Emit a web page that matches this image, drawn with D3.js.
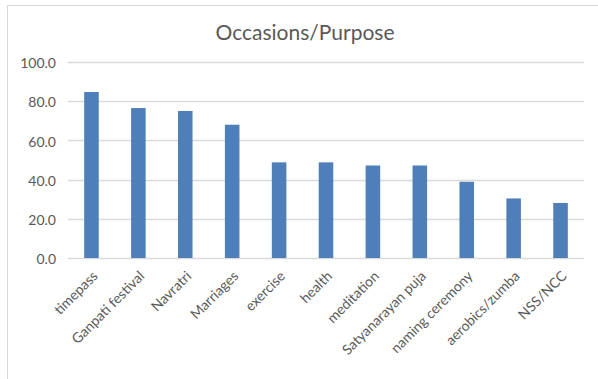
<!DOCTYPE html>
<html>
<head>
<meta charset="utf-8">
<script src="https://cdn.jsdelivr.net/npm/d3@7"></script>
<style>
  html, body { margin: 0; padding: 0; background: #fff; }
  svg { display: block; font-family: Lato, "Open Sans", sans-serif; }
</style>
</head>
<body>
<svg id="chart" width="598" height="379"></svg>
<script>
// Occasions / purposes and their scores
const categories = ["timepass", "Ganpati festival", "Navratri", "Marriages", "exercise", "health",
  "meditation", "Satyanarayan puja", "naming ceremony", "aerobics/zumba", "NSS/NCC"];
const values = [84.7, 76.5, 75.0, 68.0, 48.8, 48.8, 47.2, 47.2, 38.9, 30.4, 28.1];
const yTicks = [0, 20, 40, 60, 80, 100];
const title = "Occasions/Purpose";

const svg = d3.select("#chart");
const W = 598, H = 379;
const margin = { left: 68, right: 14, top: 62, bottom: 121 };

// chart frame (top and left edges)
svg.append("line").attr("x1", 7).attr("x2", W).attr("y1", 5.5).attr("y2", 5.5)
  .attr("stroke", "#d9d9d9").attr("stroke-width", 1);
svg.append("line").attr("x1", 7.5).attr("x2", 7.5).attr("y1", 5).attr("y2", H)
  .attr("stroke", "#d9d9d9").attr("stroke-width", 1);

const x = d3.scaleBand().domain(categories)
  .range([margin.left, W - margin.right]).paddingInner(0.69).paddingOuter(0.345);
const y = d3.scaleLinear().domain([0, 100]).range([H - margin.bottom, margin.top]);

// horizontal gridlines
svg.append("g").selectAll("line").data(yTicks).join("line")
  .attr("x1", margin.left).attr("x2", W - margin.right)
  .attr("y1", d => Math.round(y(d)) + 0.5).attr("y2", d => Math.round(y(d)) + 0.5)
  .attr("stroke", "#d9d9d9").attr("stroke-width", 1.3);

// y axis labels
const yAxis = d3.axisLeft(y).tickValues(yTicks).tickFormat(d3.format(".1f")).tickSize(0).tickPadding(12);
const gy = svg.append("g").attr("transform", `translate(${margin.left},0)`).call(yAxis);
gy.select(".domain").remove();
gy.selectAll("text").attr("fill", "#595959").style("font-size", "14px")
  .style("font-family", "Lato, 'Open Sans', sans-serif")
  .attr("dy", "0.4em");

// bars
svg.append("g").selectAll("rect").data(values).join("rect")
  .attr("x", (d, i) => x(categories[i]))
  .attr("width", x.bandwidth())
  .attr("y", d => y(d))
  .attr("height", d => y(0) - y(d))
  .attr("fill", "#4f7fb8");

// x axis labels, rotated
const xAxis = d3.axisBottom(x).tickSize(0).tickPadding(0);
const gx = svg.append("g").attr("transform", `translate(0,${y(0)})`).call(xAxis);
gx.select(".domain").remove();
gx.selectAll("text")
  .attr("fill", "#595959").style("font-size", "14px")
  .style("font-family", "Lato, 'Open Sans', sans-serif")
  .attr("text-anchor", "end")
  .attr("dy", null)
  .attr("y", 0)
  .attr("transform", "translate(7,19) rotate(-45)");

// title
svg.append("text").attr("x", 305).attr("y", 40).attr("text-anchor", "middle")
  .attr("fill", "#595959").style("font-size", "21px").text(title);
</script>
</body>
</html>
